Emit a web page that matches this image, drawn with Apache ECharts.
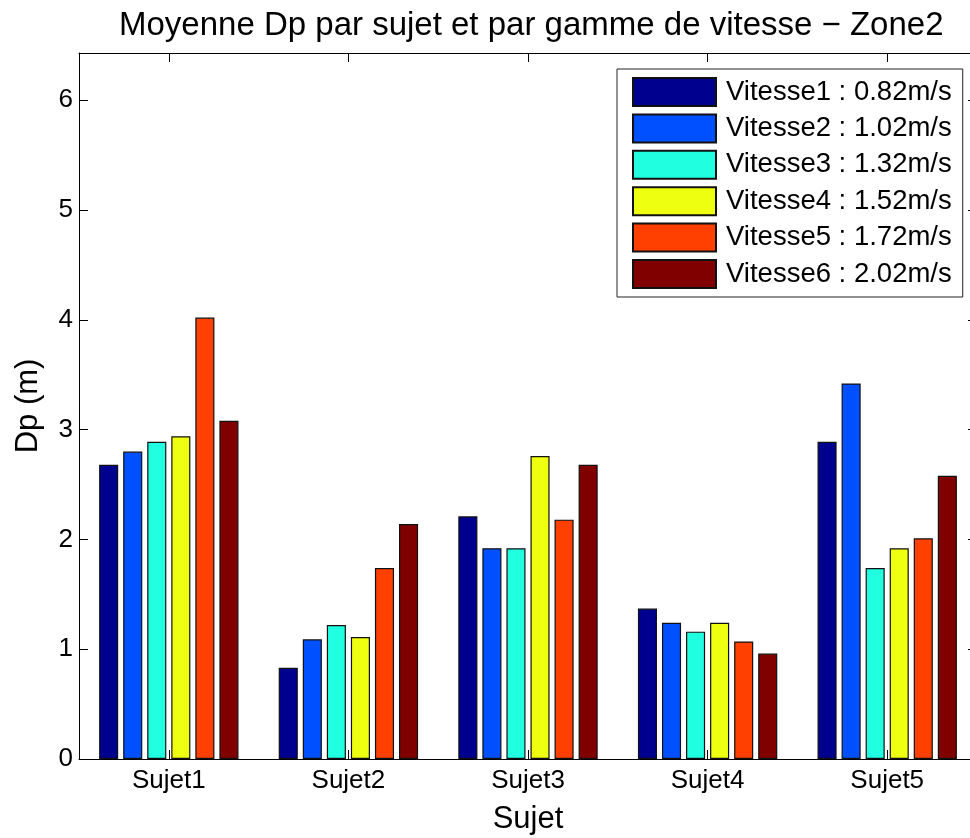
<!DOCTYPE html>
<html>
<head>
<meta charset="utf-8">
<script src="https://cdn.jsdelivr.net/npm/echarts@6/dist/echarts.min.js"></script>
<style>
  html, body { margin: 0; padding: 0; background: #fff; overflow: hidden; }
  #chart { width: 970px; height: 838px; }
</style>
</head>
<body>
<div id="chart"></div>
<script>
// Mean Dp (m) per subject, one series per walking-speed range
const subjects = ['Sujet1', 'Sujet2', 'Sujet3', 'Sujet4', 'Sujet5'];
const speedNames = [
  'Vitesse1 : 0.82m/s',
  'Vitesse2 : 1.02m/s',
  'Vitesse3 : 1.32m/s',
  'Vitesse4 : 1.52m/s',
  'Vitesse5 : 1.72m/s',
  'Vitesse6 : 2.02m/s'
];
const vitesse1 = [2.68, 0.83, 2.21, 1.37, 2.89];
const vitesse2 = [2.80, 1.09, 1.92, 1.24, 3.42];
const vitesse3 = [2.89, 1.22, 1.92, 1.16, 1.74];
const vitesse4 = [2.94, 1.11, 2.76, 1.24, 1.92];
const vitesse5 = [4.02, 1.74, 2.18, 1.07, 2.01];
const vitesse6 = [3.08, 2.14, 2.68, 0.96, 2.58];
const yTicks = [0, 1, 2, 3, 4, 5, 6];

const seriesValues = [vitesse1, vitesse2, vitesse3, vitesse4, vitesse5, vitesse6];
const jetColors = ['#00008F', '#0050FF', '#20FFDF', '#EFFF10', '#FF4000', '#800000'];

const FONT = "'Liberation Sans', Arial, sans-serif";
const yMax = 6.43;

const chart = echarts.init(document.getElementById('chart'), null, { renderer: 'canvas' });

const tickStyle = { show: true, inside: true, length: 9, lineStyle: { color: '#000', width: 1 } };
const lineStyle = { show: true, onZero: false, lineStyle: { color: '#000', width: 1 } };

chart.setOption({
  animation: false,
  backgroundColor: '#fff',
  title: {
    text: 'Moyenne Dp par sujet et par gamme de vitesse \u2212 Zone2',
    left: 114,
    top: 4,
    textStyle: { fontFamily: FONT, fontSize: 33, fontWeight: 'normal', color: '#000' }
  },
  legend: {
    orient: 'vertical',
    left: 617,
    top: 69,
    data: speedNames,
    icon: 'rect',
    itemWidth: 83,
    itemHeight: 28,
    itemGap: 6.4,
    padding: [8, 11, 8, 15],
    backgroundColor: '#fff',
    borderColor: '#222',
    borderWidth: 1,
    textStyle: { fontFamily: FONT, fontSize: 27.5, color: '#000', padding: [0, 0, 0, 5] }
  },
  // the plot box runs a few pixels past the right edge of the canvas
  grid: { left: 79, top: 53, width: 898, height: 706, containLabel: false, outerBoundsMode: 'none' },
  xAxis: [
    {
      type: 'category',
      data: subjects,
      position: 'bottom',
      axisLine: lineStyle,
      axisTick: Object.assign({ alignWithLabel: true }, tickStyle),
      axisLabel: { fontFamily: FONT, fontSize: 26, color: '#000', margin: 9 },
      name: 'Sujet',
      nameLocation: 'middle',
      nameGap: 45,
      nameTextStyle: { fontFamily: FONT, fontSize: 31, color: '#000' }
    },
    {
      type: 'category',
      data: subjects,
      position: 'top',
      axisLine: lineStyle,
      axisTick: Object.assign({ alignWithLabel: true }, tickStyle),
      axisLabel: { show: false }
    }
  ],
  yAxis: [
    {
      type: 'value',
      min: 0,
      max: yMax,
      interval: 1,
      position: 'left',
      axisLine: lineStyle,
      axisTick: tickStyle,
      splitLine: { show: false },
      axisLabel: {
        fontFamily: FONT, fontSize: 26, color: '#000', margin: 6,
        showMaxLabel: false,
        formatter: v => (yTicks.indexOf(v) >= 0 ? String(v) : '')
      },
      name: 'Dp (m)',
      nameLocation: 'middle',
      nameGap: 35,
      nameTextStyle: { fontFamily: FONT, fontSize: 31, color: '#000' }
    },
    {
      type: 'value',
      min: 0,
      max: yMax,
      interval: 1,
      position: 'right',
      axisLine: lineStyle,
      axisTick: tickStyle,
      splitLine: { show: false },
      axisLabel: { show: false }
    }
  ],
  series: speedNames.map((name, i) => ({
    name: name,
    type: 'bar',
    xAxisIndex: 0,
    yAxisIndex: 0,
    data: seriesValues[i],
    barGap: '26%',
    barCategoryGap: '22.4%',
    itemStyle: { color: jetColors[i], borderColor: '#111', borderWidth: 1.2 }
  }))
});
</script>
</body>
</html>
